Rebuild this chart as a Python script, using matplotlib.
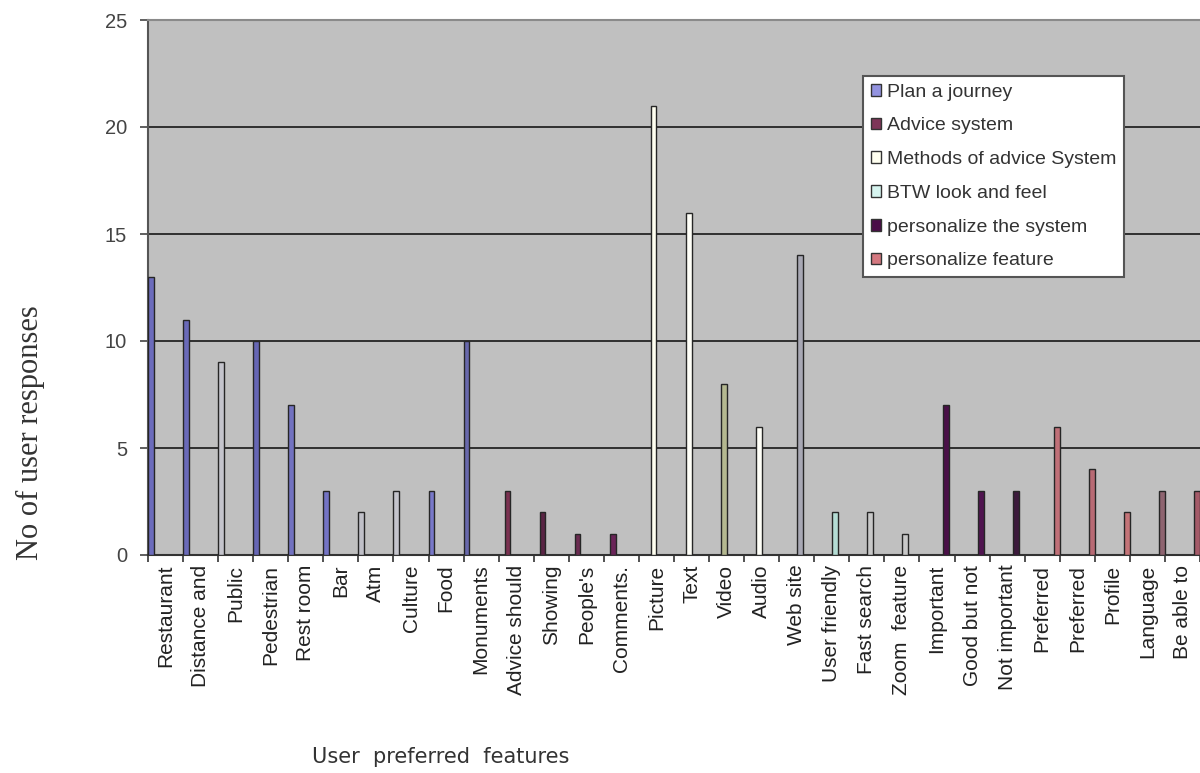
"""
Bar chart of user responses for each preferred feature of the
travel advice system, grouped by feature category.
"""

import matplotlib
import matplotlib.pyplot as plt
from matplotlib.patches import Patch

matplotlib.use("Agg")

features = [
    "Restaurant", "Distance and", "Public", "Pedestrian", "Rest room",
    "Bar", "Atm", "Culture", "Food", "Monuments",
    "Advice should", "Showing", "People's", "Comments.",
    "Picture", "Text", "Video", "Audio",
    "Web site", "User friendly", "Fast search", "Zoom  feature",
    "Important", "Good but not", "Not important",
    "Preferred", "Preferred", "Profile", "Language", "Be able to",
]
responses = [
    13, 11, 9, 10, 7, 3, 2, 3, 3, 10,
    3, 2, 1, 1,
    21, 16, 8, 6,
    14, 2, 2, 1,
    7, 3, 3,
    6, 4, 2, 3, 3,
]
# index of the legend group each feature belongs to
groups = [0] * 10 + [1] * 4 + [2] * 4 + [3] * 4 + [4] * 3 + [5] * 5

group_names = [
    "Plan a journey", "Advice system", "Methods of advice System",
    "BTW look and feel", "personalize the system", "personalize feature",
]
group_colors = ["#9393e0", "#7e3558", "#fffff0", "#d6f4ef", "#4a0c48", "#d47880"]

# fill of each bar as it is rendered in the chart
bar_colors = [
    "#6c6cbc", "#6a6ab8", "#c4c4cc", "#6666b4", "#7272c0",
    "#7474c4", "#c0c0c8", "#c4c4cc", "#7878c8", "#6868ac",
    "#7a3050", "#5a2444", "#6a2a50", "#6a2458",
    "#fffff0", "#fffff8", "#b4b890", "#fffff8",
    "#a8a8b4", "#b4dcd4", "#c8c8c8", "#c8c8c8",
    "#4a1048", "#501450", "#3c1a3c",
    "#c07078", "#b86a74", "#c47478", "#8e6470", "#a45a68",
]


def plot_user_responses():
    fig = plt.figure(figsize=(12, 7.73), dpi=100)
    ax = fig.add_axes([148 / 1200, 1 - 555 / 773, 1052 / 1200, 535 / 773])
    ax.set_facecolor("#c0c0c0")

    n_groups = len(group_names)
    xs = [i + (g + 0.5) / n_groups for i, g in enumerate(groups)]
    ax.bar(xs, responses, width=1 / n_groups, color=bar_colors,
           edgecolor="#262626", linewidth=1.0, zorder=3)

    ax.set_xlim(0, len(features))
    ax.set_ylim(0, 25)
    ax.set_yticks(range(0, 26, 5))
    ax.yaxis.grid(True, color="#303030", linewidth=1.4, zorder=1)
    ax.set_axisbelow(True)

    # category boundaries carry the tick marks, names sit between them
    ax.set_xticks(range(len(features) + 1))
    ax.set_xticklabels([])
    ax.set_xticks([i + 0.5 for i in range(len(features))], minor=True)
    ax.set_xticklabels(features, minor=True, rotation=90, va="top",
                       fontsize=15, family="Liberation Sans", color="#222222")
    ax.tick_params(axis="x", which="major", length=5, width=1.2,
                   color="#333333", direction="out")
    ax.tick_params(axis="x", which="minor", length=0, pad=7)
    ax.tick_params(axis="y", length=6, width=1.2, color="#444444",
                   pad=9, labelsize=14.5, labelcolor="#444444")
    for label in ax.get_yticklabels():
        label.set_family("Liberation Sans")

    ax.spines["right"].set_visible(False)
    ax.spines["top"].set_color("#8a8a8a")
    ax.spines["top"].set_linewidth(1.5)
    ax.spines["left"].set_color("#555555")
    ax.spines["left"].set_linewidth(1.5)
    ax.spines["bottom"].set_color("#333333")
    ax.spines["bottom"].set_linewidth(1.5)

    fig.text(30 / 1200, 1 - 433 / 773, "No of user responses", rotation=90,
             ha="center", va="center", fontsize=22, family="Liberation Serif",
             color="#333333")
    fig.text(441 / 1200, 1 - 757 / 773, "User  preferred  features",
             ha="center", va="center", fontsize=15, family="DejaVu Sans",
             color="#333333")

    handles = [Patch(facecolor=c, edgecolor="#333333", linewidth=1.0)
               for c in group_colors]
    legend = ax.legend(handles, group_names, loc="upper left",
                       bbox_to_anchor=(863 / 1200, 1 - 76 / 773),
                       bbox_transform=fig.transFigure,
                       prop={"family": "Liberation Sans", "size": 14},
                       handlelength=0.55, handleheight=0.55, handletextpad=0.3,
                       labelspacing=0.86, borderpad=0.4, borderaxespad=0,
                       fancybox=False, framealpha=1, edgecolor="#555555")
    legend.get_frame().set_linewidth(1.5)
    for text in legend.get_texts():
        text.set_color("#333333")

    fig.savefig("out.png", dpi=100, facecolor="white")


if __name__ == "__main__":
    plot_user_responses()
